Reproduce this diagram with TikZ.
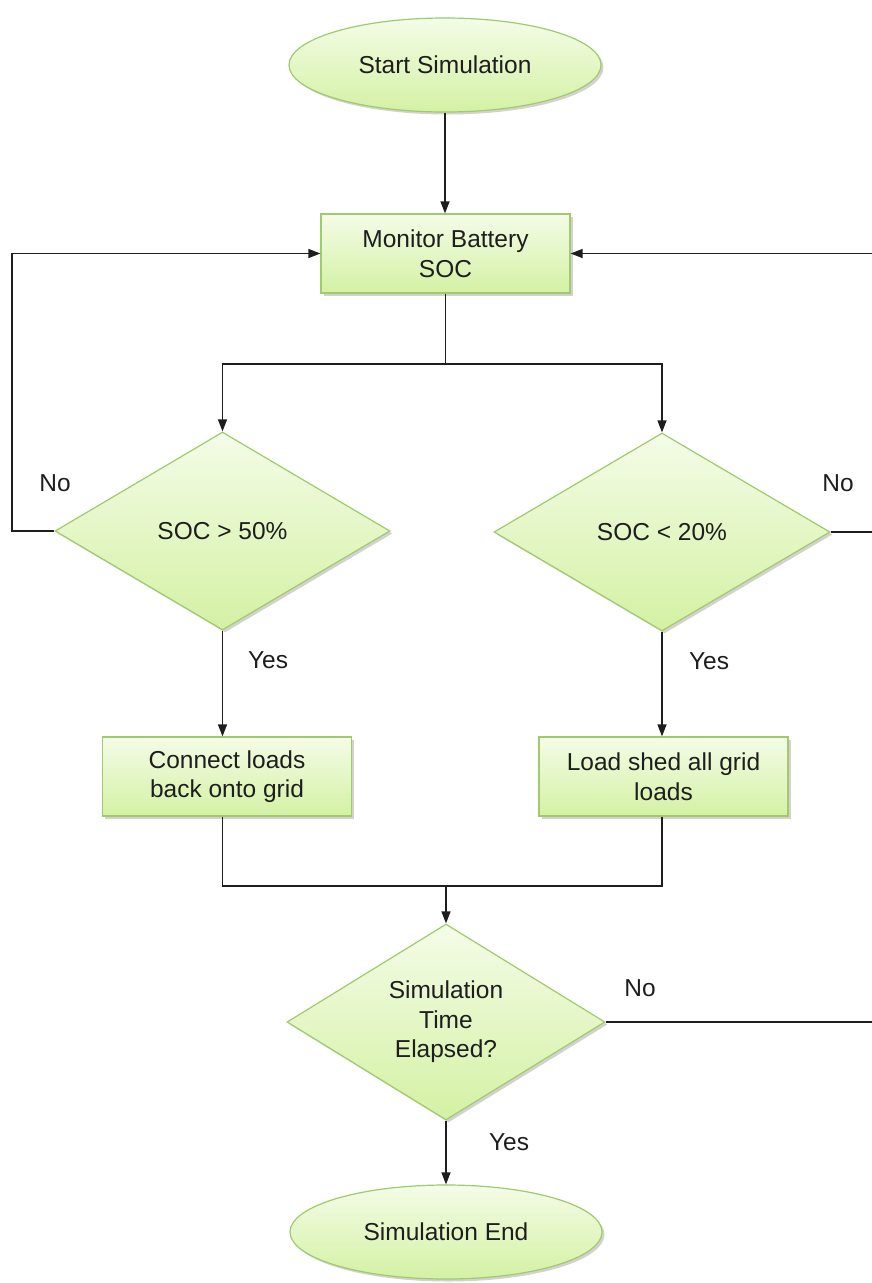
\documentclass[tikz,border=0pt]{standalone}
\usepackage{fontspec}
\setmainfont{Liberation Sans}
\usetikzlibrary{shapes.geometric,arrows.meta,shadows}
\definecolor{edgegreen}{RGB}{160,202,108}
\definecolor{filltop}{RGB}{244,252,231}
\definecolor{fillbot}{RGB}{212,241,164}
\definecolor{ink}{RGB}{30,30,30}
\begin{document}
\begin{tikzpicture}[x=1pt,y=-1pt,
  font=\fontsize{24.5}{29.5}\selectfont,
  shapebase/.style={draw=edgegreen, line width=1.2pt, top color=filltop, bottom color=fillbot,
    text=ink, inner sep=0pt, align=center,
    drop shadow={shadow xshift=2.5pt, shadow yshift=-2.5pt, opacity=0.25, fill=black!70}},
  terminal/.style={shapebase, ellipse, minimum width=312pt, minimum height=94pt},
  process/.style={shapebase, rectangle, minimum width=249pt, minimum height=79pt},
  decision/.style={shapebase, diamond, aspect=1.6},
  flow/.style={draw=ink, line width=1.3pt, -{Triangle[length=12pt,width=9pt]}},
  link/.style={draw=ink, line width=1.3pt},
  lbl/.style={text=ink, inner sep=0pt}]

\useasboundingbox (0,0) rectangle (872,1283);

% shapes
\node[terminal] (start) at (445,65) {Start Simulation};
\node[process] (mon) at (445.5,253.5) {Monitor Battery\\SOC};
\node[decision, minimum width=335pt, minimum height=198pt] (d1) at (222.5,531) {SOC > 50\%};
\node[decision, minimum width=336pt, minimum height=198pt] (d2) at (662,532) {SOC < 20\%};
\node[process] (con) at (227,776.5) {Connect loads\\back onto grid};
\node[process] (shed) at (663.5,776.5) {Load shed all grid\\loads};
\node[decision, minimum width=318pt, minimum height=196pt] (d3) at (446,1022) {Simulation\\Time\\Elapsed?};
\node[terminal] (end) at (446,1232) {Simulation End};

% routing points
\coordinate (split) at (445.5,364);
\coordinate (merge) at (446,886);
\coordinate (leftx) at (12,0);
\coordinate (rightx) at (876,0);

% connectors
\draw[flow] (start.south) -- (start.south |- mon.north);
\draw[link] (mon.south) -- (split);
\draw[flow] (split) -| (d1.north);
\draw[flow] (split) -| (d2.north);
\draw[flow] (d1.west) -- (d1.west -| leftx) |- (mon.west);
\draw[flow] (d2.east) -- (d2.east -| rightx) |- (mon.east);
\draw[link] (d3.east) -- (d3.east -| rightx) -- (d2.east -| rightx);
\draw[flow] (d1.south) -- (d1.south |- con.north);
\draw[flow] (d2.south) -- (d2.south |- shed.north);
\draw[link] (d1.south |- con.south) |- (merge);
\draw[link] (d2.south |- shed.south) |- (merge);
\draw[flow] (merge) -- (d3.north);
\draw[flow] (d3.south) -- (end.north);

% branch labels
\node[lbl] (no1) at (55,483) {No};
\node[lbl] (no2) at (838,483) {No};
\node[lbl] (yes1) at (268,660) {Yes};
\node[lbl] (yes2) at (709,661) {Yes};
\node[lbl] (no3) at (640,988) {No};
\node[lbl] (yes3) at (509,1142) {Yes};
\end{tikzpicture}
\end{document}
